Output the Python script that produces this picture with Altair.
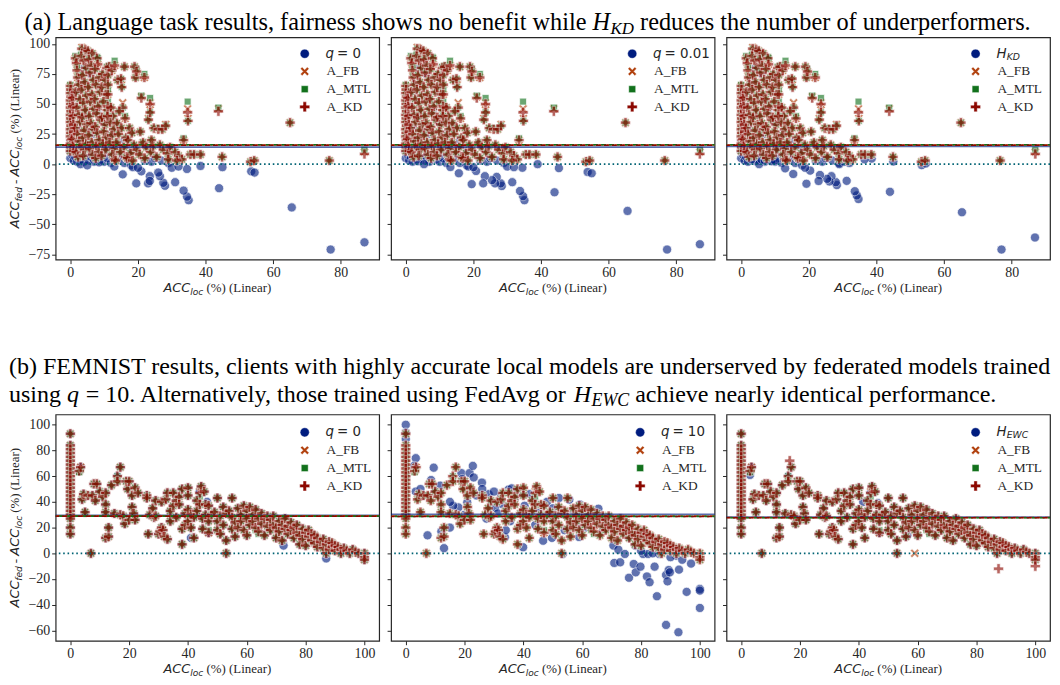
import altair as alt
import pandas as pd

# ---------------- colours / fonts ----------------
BLUE, ORANGE, GREEN, RED, TEAL = "#001c7f", "#b1400d", "#12711c", "#8c0800", "#006374"
INK = "#262626"
SERIF, SANS = "Liberation Serif", "DejaVu Sans"

# ---------------- data: (a) language task ----------------
R1_X = [0, 0.1, 0, 0.2, 0, 0.1, 0, 0.2, 0, 0.1, 0, 0.2, 0, 0.1, 0, 0.2, 0, 0.1, 0,
        0.6, 0.7, 0.8, 0.9, 1.0, 0.5, 0.8, 1.0,
        1.5, 1.8, 2.0, 2.2, 2.5, 1.6, 2.8, 1.9, 2.4, 2.9, 1.4, 2.1, 2.6, 3.0, 1.7, 2.3,
        3.4, 4.5, 3.2, 4.0, 4.6, 3.6, 4.2, 3.3, 4.8, 3.9, 4.4, 3.5, 4.9, 4.1, 3.7, 4.7, 4.3, 3.8,
        5.2, 6.5, 5.5, 6.2, 5.8, 6.8, 5.3, 6.4, 5.9, 6.9, 5.6, 6.1, 6.7, 5.4, 6.3, 5.7, 6.6,
        7.9, 8.1, 7.3, 8.6, 7.6, 8.8, 7.2, 8.3, 7.8, 8.9, 7.4, 8.0, 8.5, 7.7, 8.4, 7.5,
        9.5, 10.2, 9.3, 10.8, 10.5, 9.8, 10.9, 9.4, 10.3, 9.9, 10.7, 9.6, 10.4, 9.2,
        11.1, 11.1, 11.1, 11.1, 11.5, 12.3, 13.1, 12.0, 12.6, 11.8, 12.8, 12.2, 11.6, 12.9, 12.4, 13.0, 11.0,
        14.0, 15.2, 15.0, 16.0, 15.5, 16.2, 14.5, 13.8, 15.1, 14.2, 16.5, 13.6, 15.8, 14.8, 16.4, 13.4,
        19.0, 19.3, 19.6, 17.5, 18.2, 17.0, 18.8, 19.5, 17.8, 16.9, 18.4,
        21.9, 21.0, 20.7, 23.6, 23.1, 23.6, 21.5, 22.5, 23.8, 20.5, 24.5, 22.0, 24.0,
        24.7, 26.0, 27.2, 28.2, 26.5, 27.5, 28.8, 29.5, 25.5, 29.0,
        31.0, 32.0, 33.5, 34.8, 34.7, 35.5, 36.6, 38.5, 33.0, 31.5,
        43.8, 44.9, 53.3, 54.4, 65.0, 76.6, 87.0]
R1_KD = [65, 62, 59, 56, 53, 50, 47, 44, 41, 38, 35, 32, 29, 26, 23, 20, 17, 14, 11,
         55, 48, 40, 33, 27, 21, 15, 11,
         88, 84, 78, 72, 66, 60, 54, 47, 41, 35, 30, 25, 19, 14, 10, 6,
         96, 95, 90, 86, 80, 74, 68, 62, 57, 51, 45, 39, 33, 28, 22, 17, 12, 7,
         94, 92, 87, 82, 76, 70, 64, 58, 52, 46, 40, 34, 29, 24, 18, 13, 8,
         88, 83, 79, 72, 66, 60, 54, 48, 42, 37, 31, 26, 20, 15, 10, 5,
         75, 70, 64, 80, 58, 52, 45, 39, 33, 27, 22, 17, 12, 7,
         74, 66, 58, 48, 81, 78, 82, 47, 40, 35, 29, 24, 18, 13, 8, 4, 40,
         70, 64, 71, 81, 47, 38, 44, 34, 30, 25, 22, 18, 14, 10, 6, 3,
         81, 72, 77, 30, 26, 20, 16, 12, 9, 5, 3,
         72, 55, 27, 50, 37, 43, 18, 14, 10, 8, 15, 5, 20,
         30, 29, 29, 32, 16, 12, 9, 14, 6, 4,
         10, 7, 20, 36, 43, 8, 8, 8, 4, 3,
         44, 6, 2, 3, 34.5, 3, 8.5]
R1_MTL = [66, 62, 59, 56, 53, 50, 47, 44, 41, 38, 35, 32, 29, 26, 23, 20, 17, 14, 11,
          55, 48, 40, 33, 27, 21, 15, 11,
          90, 88, 81, 74, 66, 60, 54, 47, 41, 35, 30, 25, 19, 14, 10, 6,
          96, 95, 91, 88, 80, 74, 68, 62, 57, 51, 45, 39, 33, 28, 22, 17, 12, 7,
          94, 92, 89, 82, 78, 70, 64, 58, 52, 46, 40, 34, 29, 24, 18, 13, 8,
          89, 88, 79, 72, 66, 60, 54, 50, 42, 37, 31, 26, 20, 15, 10, 5,
          75, 70, 64, 81, 58, 52, 45, 39, 33, 27, 22, 17, 12, 7,
          74, 66, 61, 52, 82, 79, 86, 47, 40, 35, 29, 24, 18, 13, 8, 4, 40,
          70, 64, 71, 81, 47, 40, 44, 34, 30, 25, 22, 18, 14, 10, 6, 3,
          81, 72, 79, 30, 26, 20, 16, 12, 9, 5, 3,
          75, 57, 27, 55, 37, 43, 18, 14, 10, 8, 15, 5, 20,
          30, 30, 29, 32, 16, 12, 9, 14, 6, 4,
          10, 7, 21.5, 36, 52, 8, 8, 8, 4, 3,
          47, 6, 2, 3, 34.5, 3, 12]
R1_FB = [65, 62, 59, 56, 53, 50, 47, 44, 41, 38, 35, 32, 29, 26, 23, 20, 17, 14, 11,
         55, 48, 40, 33, 27, 21, 15, 11,
         88, 84, 78, 72, 66, 60, 54, 47, 41, 35, 30, 25, 19, 14, 10, 6,
         97, 95, 90, 86, 81, 74, 68, 62, 57, 51, 45, 39, 33, 28, 22, 17, 12, 7,
         94, 92, 87, 82, 76, 70, 64, 58, 52, 46, 40, 34, 29, 24, 18, 13, 8,
         88, 83, 79, 72, 66, 60, 54, 48, 42, 37, 31, 26, 20, 15, 10, 5,
         75, 70, 64, 80, 58, 52, 45, 39, 33, 27, 22, 17, 12, 7,
         74, 66, 58, 48, 81, 78, 82, 47, 40, 35, 29, 24, 18, 13, 8, 4, 42,
         70, 66, 70, 81, 51, 38, 44, 34, 30, 25, 22, 18, 14, 10, 6, 3,
         81, 72, 77, 30, 26, 20, 16, 12, 9, 5, 3,
         72, 56, 27, 51, 38, 45, 18, 14, 10, 8, 15, 5, 20,
         30, 29, 29, 33, 16, 12, 9, 14, 6, 4,
         10, 7, 20, 38, 46, 8, 8, 8, 4, 3,
         46, 6, 2, 3, 34.5, 3, 10]

# blue clients hidden under the A_* cloud (same in the three language panels)
R1_BLUE_SHARED_X = [0, 0, 0, 0, 0.3, 0.3, 0.5, 1, 1.2, 1.5, 2, 2.5, 3.5, 4.5, 5.5, 6, 7, 7.5, 9, 10,
                    11, 12, 12.5, 14, 15, 16, 17, 18, 22, 24, 25, 27, 29,
                    1, 2, 3, 4, 5, 6, 2, 4, 6, 8, 10, 12, 14, 16, 18, 3, 5, 7, 9, 11]
R1_BLUE_SHARED_Y = [5, 10, 15, 20, 30, 40, 8, 3, 12, 6, 2, 9, 4, 7, 3, 6, 2, 8, 4, 2,
                    5, 1, 7, 3, 6, 1, 4, -1, 3, 2, 5, 3, 1,
                    50, 60, 70, 80, 85, 75, 30, 40, 30, 45, 35, 25, 15, 20, 12, 20, 15, 25, 18, 12]
R1_Q0_X = [77, 87, 65.5, 44, 35, 34.5, 33.5, 31, 28, 27.5, 26.5, 26, 23.5, 23, 23.5, 19.5, 21, 15.5,
           13, 53.5, 54.5, 45, 38.5, 4, 3, 5, 8.5, 34.5, 30, 32, 18.5, 20]
R1_Q0_Y = [-71, -65, -36, -20, -30, -27, -22, -15, -18, -15.5, -10, -7, -10, -16, -14, -16, -6, -8.5,
           -2, -6, -7, -2.5, -1.5, 2, 0, -1, 1.5, -4, -3, -2, -2.5, -3]
R1_Q001_X = [77.3, 87, 65.6, 44, 35.1, 34.7, 33.8, 31.5, 28.4, 28.1, 26.9, 26.4, 25.5, 23.4, 22.9,
             19.5, 20.8, 15.7, 13.2, 53.8, 55, 45.3, 39, 3.6, 5.4, 34.5, 30, 32, 18.5, 20]
R1_Q001_Y = [-71, -66.6, -38.9, -23.4, -30, -26.6, -22.3, -15, -18.2, -16, -10.6, -16, -13.3, -10, -16,
             -16.6, -5.7, -7.6, -2.4, -6.5, -7.6, -3.3, 0, 2.4, 0, -3, -2, -2.5, -2, -2.5]
R1_HKD_X = [77, 86.9, 65.3, 44, 34.7, 34.2, 33.6, 31.2, 28.3, 28, 26.7, 26.1, 25.4, 23.3, 22.9,
            19.3, 20.4, 15.4, 13, 53.4, 54.6, 45, 38.6, 36.5, 4.2, 5.3, 8.9, 18.9, 29, 32,
            30.5, 3, 6, 7, 10]
R1_HKD_Y = [-71, -61, -40, -23, -29, -26, -22.5, -13.9, -17.4, -15, -10, -14.4, -12.2, -9, -14,
            -16.3, -5.4, -8.2, -3.5, -0.8, 0.5, 2.2, 4.6, 4, 2.7, 0, 2.4, -3, 0, 1,
            2, 4, 4, 3, 3]
R1_BLUE_MEAN = [14.1, 14.1, 14.7]
R1_FB_MEAN, R1_MTL_MEAN, R1_KD_MEAN = 15.9, 16.1, 15.7

# ---------------- data: (b) FEMNIST ----------------
R2_X = [0] * 23 + [
    3, 3.5, 4, 4.5, 6, 5, 7, 7.5, 8, 9, 8.5, 10, 11, 12, 12, 12, 12, 13, 13, 14,
    15, 16, 16, 17, 17, 18, 18.5, 19, 19.5, 20, 20, 21, 21, 21.5, 22, 22, 23,
    26, 26, 26.5, 27, 28, 28.5, 29, 29, 30, 30.5, 31, 31, 31.5, 32, 32.5, 33, 33, 34, 34, 35,
    35, 36, 36, 37, 37, 38, 38, 38, 39, 39, 40, 40, 40, 40, 41, 41, 42, 42, 43, 43,
    44, 44.5, 44, 45, 45, 45.5, 46, 46, 47, 47, 47, 48, 49, 50, 50, 50,
    51, 51, 52, 52, 53, 53, 53, 54, 55, 55, 55, 56, 56, 57, 57, 58, 58, 59, 59, 60,
    60, 60, 61, 61, 62, 62, 63, 63, 64, 64, 65, 65, 66, 66, 67, 67, 68, 68, 69, 69,
    70, 70, 71, 71, 72, 72,
    73, 73, 74, 74, 75, 75, 76, 76, 77, 77, 78, 78, 79, 79, 80, 80, 81, 81, 82, 82,
    83, 83, 84, 84, 85, 86, 86, 87, 87, 88, 88, 89, 89, 90, 90, 91, 92, 92, 93, 94,
    95, 96, 97, 98, 100, 100, 100]
R2_KD = [93, 84, 81, 78, 75, 72, 69, 66, 63, 60, 57, 54, 51, 48, 45, 42, 39, 36, 33, 30, 27, 20, 15,
         64, 67, 42, 46, 45, 32, 0, 45, 54, 54, 41, 48, 44, 47, 38, 32, 12, 13, 20, 53,
         31, 60, 56, 67, 30, 29, 23, 56, 50, 56, 26, 45, 36, 31, 51, 26, 47,
         45, 43, 15, 30, 35, 28, 41, 29, 15, 17, 40, 20, 18, 13, 42, 11, 47, 25, 33, 37,
         47, 28, 41, 44, 38, 19, 7, 50, 31, 22, 51, 45, 34, 25, 20, 30, 12, 28, 41, 33,
         47, 52, 38, 27, 19, 48, 38, 30, 16, 25, 37, 30, 32, 43, 25, 18,
         29, 15, 22, 36, 0, 10, 31, 33, 28, 19, 43, 13, 24, 35, 20, 30, 25, 37, 18, 33,
         27, 14, 36, 22, 30, 25, 20, 34, 27, 17, 31, 23, 27, 14, 29, 21, 26, 18, 22, 29,
         20, 12, 25, 17, 22, 10,
         27, 19, 15, 21, 18, 24, 12, 20, 16, 22, 14, 7, 19, 11, 16, 6, 13, 18, 10, 15,
         8, 14, 12, 5, 9, 11, 4, 7, 0, 9, 3, 5, 8, 6, 2, 5, 3, 0, 4, 2,
         0, 3, 1, 0, 0, -3, -5]
R2_MTL = [93, 84, 81, 78, 75, 72, 69, 66, 63, 60, 57, 54, 51, 48, 45, 42, 39, 36, 33, 30, 27, 20, 15,
          63, 65, 42, 46, 45, 32, 0, 45, 54, 54, 41, 48, 44, 47, 38, 32, 12, 13, 20, 53,
          31, 60, 56, 67, 30, 29, 23, 56, 50, 56, 26, 45, 36, 31, 51, 26, 47,
          45, 43, 15, 30, 35, 28, 41, 29, 15, 17, 40, 20, 18, 13, 42, 11, 47, 25, 33, 37,
          47, 28, 41, 44, 38, 19, 7, 50, 31, 22, 51, 45, 34, 25, 20, 30, 12, 28, 41, 33,
          44, 52, 38, 27, 19, 48, 38, 30, 18, 25, 37, 30, 32, 43, 25, 18,
          29, 15, 22, 36, 0, 10, 31, 33, 28, 19, 43, 13, 24, 35, 20, 30, 25, 37, 18, 33,
          27, 14, 36, 22, 30, 25, 18, 34, 27, 15, 31, 23, 27, 14, 29, 21, 26, 18, 22, 29,
          20, 12, 25, 17, 22, 10,
          27, 19, 15, 21, 18, 24, 12, 20, 16, 22, 14, 7, 19, 11, 16, 6, 13, 18, 10, 15,
          8, 14, 12, 5, 9, 11, 4, 7, 0, 9, 3, 5, 8, 6, 2, 5, 3, 0, 4, 2,
          0, 3, 1, 0, 0, -3, -5]
R2_FB = [93, 84, 81, 78, 75, 72, 69, 66, 63, 60, 57, 54, 51, 48, 45, 42, 39, 36, 33, 30, 27, 20, 15,
         64, 67, 42, 46, 45, 32, 0, 45, 54, 54, 41, 48, 44, 47, 38, 32, 12, 13, 20, 53,
         31, 57, 56, 67, 30, 29, 23, 56, 50, 56, 26, 45, 36, 31, 51, 26, 47,
         45, 43, 15, 30, 35, 28, 41, 29, 15, 17, 40, 20, 18, 13, 42, 11, 47, 25, 33, 37,
         47, 28, 41, 44, 38, 19, 7, 50, 31, 22, 51, 45, 34, 25, 20, 30, 12, 28, 41, 33,
         48, 52, 38, 27, 19, 48, 38, 30, 16, 25, 37, 30, 32, 43, 25, 18,
         29, 15, 22, 36, 0, 10, 31, 33, 28, 19, 43, 13, 24, 35, 20, 30, 25, 37, 18, 33,
         27, 14, 36, 22, 30, 25, 20, 34, 27, 17, 31, 23, 27, 14, 29, 21, 26, 18, 22, 29,
         20, 12, 25, 17, 22, 10,
         27, 19, 15, 21, 18, 24, 12, 20, 16, 22, 14, 7, 19, 11, 16, 6, 13, 18, 10, 15,
         8, 14, 12, 5, 9, 11, 4, 7, 0, 9, 3, 5, 8, 6, 2, 5, 3, 0, 4, 2,
         0, 3, 1, 0, 0, -3, -5]
# blue points that stand out from the A_* cloud
R2_Q0_EXTRA_X = [87, 72.5, 41, 44, 62.5, 46.5]
R2_Q0_EXTRA_Y = [-4, 6, 12, 48, 34, 40]
R2_HEWC_EXTRA_X = [50, 52, 56.5, 46.5, 3, 41.5]
R2_HEWC_EXTRA_Y = [31, 31, 14, 39, 61, 40]
R2_P3_KD_EXTRA_X = [16.5, 87.5, 100]
R2_P3_KD_EXTRA_Y = [72, -12, -10]
R2_P3_FB_EXTRA_X = [59]
R2_P3_FB_EXTRA_Y = [0]
R2_Q10_X = [0, 0, 0, 0, 0, 3.4, 2.8, 3.4, 9.5, 8.6, 7.4, 11.7, 12.1, 13, 18.9,
            19.2, 21.7, 22.8, 23.1, 20.9, 17.9, 16.1, 25.9, 28.2, 29.3, 30.4, 32.4, 34.9, 36, 38.2,
            39.9, 40.4, 39.9, 33.7, 31.3, 27.4, 35.5, 46.7, 43.2, 43.8, 49.7, 49.4, 52.1, 53.4, 55.6,
            56.1, 59.2, 58.9, 60.6, 65.5, 70.6, 72.3, 74.5, 70.9, 72.9, 75.9, 77.5, 78.2, 79.8, 80.7,
            82, 82.9, 82.4, 84.6, 85.4, 86.2, 88.5, 89.4, 89.8, 89, 88.5, 92.9, 92.7, 91.9, 95.5,
            95.4, 100, 100, 100,
            5, 6, 10, 15, 24, 26, 30, 33, 37, 42, 45, 48, 50, 54, 57, 62, 64, 66, 68, 67,
            76, 78, 80, 84, 86, 90, 94, 97, 15, 20, 34, 44, 54, 58, 61]
R2_Q10_Y = [100, 94, 89, 60, 40, 74, 68, 48, 66.6, 57, 14, 52.6, 17, 4, 62.4,
            57.8, 62.4, 68, 59, 39.6, 35.7, 37, 55, 46, 39.6, 35.7, 44.8, 49.5, 50.5, 48.7,
            46, 37, 4.7, 12.4, 31, 27, 25, 9.8, 42, 39.6, 12, 27.5, 43, -0.5, 41.7,
            25, 38, 12.7, 35.7, 34.7, 6, 2.8, -0.5, -7.5, -7, -19, -8.3, -14.8, -10.4, -0.5,
            -18, -22.5, -0.5, -10.4, -33.4, -0.5, -16.8, -13, -14.8, -21.8, -55.7, -12.7, -61.4, -1.8, -30,
            0.8, -27.7, -29, -42.5,
            50, 45, 48, 40, 45, 50, 48, 38, 42, 46, 33, 40, 35, 30, 33, 32, 30, 28, 25, 18,
            12, 6, 2, 0, 3, -3, -5, -8, 20, 30, 18, 22, 18, 22, 20]
R2_BLUE_MEAN = [29.4, 30.3, 28.2]
R2_A_MEAN = [28.9, 28.7, 27.7]

# ---------------- axes ----------------
R1_XDOM, R1_YDOM = [-4.35, 91.35], [-79.4, 105.4]
R1_XTICKS, R1_YTICKS = [0, 20, 40, 60, 80], [-75, -50, -25, 0, 25, 50, 75, 100]
R2_XDOM, R2_YDOM = [-5, 105], [-68, 108]
R2_XTICKS, R2_YTICKS = [0, 20, 40, 60, 80, 100], [-60, -40, -20, 0, 20, 40, 60, 80, 100]

W = 326
ROW_H = [224, 228]
X_PATH = ("M0.53,-0.884L0.884,-0.53L0.354,0L0.884,0.53L0.53,0.884L0,0.354L-0.53,0.884"
          "L-0.884,0.53L-0.354,0L-0.884,-0.53L-0.53,-0.884L0,-0.354Z")
P_PATH = ("M-0.33,-1L0.33,-1L0.33,-0.33L1,-0.33L1,0.33L0.33,0.33L0.33,1L-0.33,1"
          "L-0.33,0.33L-1,0.33L-1,-0.33L-0.33,-0.33Z")


def frame(xs, ys):
    assert len(xs) == len(ys), (len(xs), len(ys))
    return pd.DataFrame({"x": xs, "y": ys})


def txt(s, px, py, size, font=SERIF, style="normal", align="left", baseline="alphabetic",
        angle=0, color=INK):
    return alt.Chart(pd.DataFrame({"t": [s]})).mark_text(
        align=align, baseline=baseline, font=font, fontSize=size, fontStyle=style,
        angle=angle, color=color).encode(text="t:N", x=alt.value(px), y=alt.value(py))


def make_panel(row, col, blue, fb, mtl, kd, blue_mean, a_means, leg):
    H = ROW_H[row]
    xdom, ydom = (R1_XDOM, R1_YDOM) if row == 0 else (R2_XDOM, R2_YDOM)
    xt, yt = (R1_XTICKS, R1_YTICKS) if row == 0 else (R2_XTICKS, R2_YTICKS)
    xs = alt.Scale(domain=xdom, nice=False, zero=False)
    ys = alt.Scale(domain=ydom, nice=False, zero=False)
    common = dict(title=None, grid=False, domain=False, tickSize=4, tickWidth=1, tickColor=INK,
                  labelFont=SERIF, labelFontSize=14, labelColor=INK, labelPadding=2,
                  format="d", labelFlush=False, labelOverlap=False)
    xax = alt.Axis(values=xt, **common)
    yax = alt.Axis(values=yt, labels=(col == 0), **common)

    def pts(df, color, shape, size, op=0.62):
        return alt.Chart(df).mark_point(shape=shape, filled=True, fill=color, size=size,
                                         opacity=op, stroke="white", strokeWidth=0.7).encode(
            x=alt.X("x:Q", scale=xs, axis=xax), y=alt.Y("y:Q", scale=ys, axis=yax))

    def hline(v, color, width=1.6, dash=None, offset=0, op=1.0):
        kw = dict(color=color, strokeWidth=width, opacity=op)
        if dash:
            kw.update(strokeDash=dash, strokeDashOffset=offset)
        return alt.Chart(pd.DataFrame({"v": [v]})).mark_rule(**kw).encode(
            y=alt.Y("v:Q", scale=ys, axis=yax))

    layers = [pts(blue, BLUE, "circle", 85), pts(fb, ORANGE, X_PATH, 105),
              pts(mtl, GREEN, "square", 48), pts(kd, RED, P_PATH, 105),
              hline(blue_mean, BLUE, width=1.8, op=0.65),
              hline(a_means[0], ORANGE, dash=[5, 3], offset=0),
              hline(a_means[1], GREEN, dash=[5, 3], offset=2.7),
              hline(a_means[2], RED, dash=[5, 3], offset=5.4),
              hline(0, TEAL, width=1.7, dash=[1.6, 2.8])]

    # legend (drawn inside the upper-right corner, as in the reference)
    mx, tx = leg["mx"], leg["tx"]
    ry = [16.5, 34.3, 52.2, 70] if row == 0 else [18, 36, 54, 72]
    for (c, s, z), yy in zip([(BLUE, "circle", 85), (ORANGE, X_PATH, 95), (GREEN, "square", 48),
                              (RED, P_PATH, 100)], ry):
        layers.append(alt.Chart(pd.DataFrame({"k": [0]})).mark_point(
            shape=s, filled=True, fill=c, size=z, opacity=1, stroke="white", strokeWidth=0.4
        ).encode(x=alt.value(mx), y=alt.value(yy)))
    if leg["kind"] == "q":
        layers.append(txt("q", tx, ry[0], 13.5, SANS, "italic", baseline="middle"))
        layers.append(txt(leg["rest"], tx + 11.5, ry[0], 13.5, SANS, baseline="middle"))
    else:
        layers.append(txt("H", tx, ry[0], 13.5, SANS, "italic", baseline="middle"))
        layers.append(txt(leg["sub"], tx + 10.3, ry[0] + 3, 9.4, SANS, "italic", baseline="middle"))
    for lab, yy in zip(["A_FB", "A_MTL", "A_KD"], ry[1:]):
        layers.append(txt(lab, tx + 1, yy, 13.5, SERIF, baseline="middle"))

    # x axis title  ACC_loc (%) (Linear)
    layers += [txt("ACC", 108.7, H + 33, 13, SANS, "italic"),
               txt("loc", 135.7, H + 35.7, 9.1, SANS, "italic"),
               txt("(%) (Linear)", 152, H + 33, 13, SERIF)]
    if col == 0:
        # y axis title  ACC_fed - ACC_loc (%) (Linear), rotated
        b0 = H / 2 + 80.45
        bx, sx = -36.5, -33.8
        layers += [txt("ACC", bx, b0, 13, SANS, "italic", angle=270),
                   txt("fed", sx, b0 - 27, 9.1, SANS, "italic", angle=270),
                   txt("-", bx, b0 - 44.65, 13, SERIF, angle=270),
                   txt("ACC", bx, b0 - 52.2, 13, SANS, "italic", angle=270),
                   txt("loc", sx, b0 - 79.2, 9.1, SANS, "italic", angle=270),
                   txt("(%) (Linear)", bx, b0 - 95.45, 13, SERIF, angle=270)]
    if row == 0 and col == 0:
        layers += [txt("(a) Language task results, fairness shows no benefit while", 534.9, -7.5, 24.5,
                       align="right", color="black"),
                   txt("H", 541, -7.5, 24.5, style="italic", color="black"),
                   txt("KD", 559.2, -3.5, 17, style="italic", color="black"),
                   txt("reduces the number of underperformers.", 588.9, -7.5, 24.5, color="black")]
    if row == 1 and col == 0:
        layers += [txt("(b) FEMNIST results, clients with highly accurate local models are "
                       "underserved by federated models trained", -47, -41, 24.2, color="black"),
                   txt("using", -47, -13, 24.2, color="black"),
                   txt("q", 11.5, -13, 24.2, style="italic", color="black"),
                   txt("= 10. Alternatively, those trained using FedAvg or", 30.3, -13, 24.2,
                       color="black"),
                   txt("H", 522, -13, 24.2, style="italic", color="black"),
                   txt("EWC", 540, -9, 18, style="italic", color="black"),
                   txt("achieve nearly identical performance.", 584, -13, 24.2, color="black")]
    return alt.layer(*layers).properties(width=W, height=H)


LEG_STD = 251
panels = [
    make_panel(0, 0, frame(R1_BLUE_SHARED_X + R1_Q0_X, R1_BLUE_SHARED_Y + R1_Q0_Y),
               frame(R1_X, R1_FB), frame(R1_X, R1_MTL), frame(R1_X, R1_KD),
               R1_BLUE_MEAN[0], [R1_FB_MEAN, R1_MTL_MEAN, R1_KD_MEAN],
               dict(kind="q", rest="= 0", mx=LEG_STD, tx=272)),
    make_panel(0, 1, frame(R1_BLUE_SHARED_X + R1_Q001_X, R1_BLUE_SHARED_Y + R1_Q001_Y),
               frame(R1_X, R1_FB), frame(R1_X, R1_MTL), frame(R1_X, R1_KD),
               R1_BLUE_MEAN[1], [R1_FB_MEAN, R1_MTL_MEAN, R1_KD_MEAN],
               dict(kind="q", rest="= 0.01", mx=243, tx=264)),
    make_panel(0, 2, frame(R1_BLUE_SHARED_X + R1_HKD_X, R1_BLUE_SHARED_Y + R1_HKD_Y),
               frame(R1_X, R1_FB), frame(R1_X, R1_MTL), frame(R1_X, R1_KD),
               R1_BLUE_MEAN[2], [R1_FB_MEAN, R1_MTL_MEAN, R1_KD_MEAN],
               dict(kind="h", sub="KD", mx=LEG_STD, tx=272)),
    make_panel(1, 0, frame(R2_X + R2_Q0_EXTRA_X, R2_KD + R2_Q0_EXTRA_Y),
               frame(R2_X, R2_FB), frame(R2_X, R2_MTL), frame(R2_X, R2_KD),
               R2_BLUE_MEAN[0], [R2_A_MEAN[0] + 0.2, R2_A_MEAN[0], R2_A_MEAN[0] - 0.1],
               dict(kind="q", rest="= 0", mx=LEG_STD, tx=272)),
    make_panel(1, 1, frame(R2_Q10_X, R2_Q10_Y),
               frame(R2_X, R2_FB), frame(R2_X, R2_MTL), frame(R2_X, R2_KD),
               R2_BLUE_MEAN[1], [R2_A_MEAN[1] + 0.2, R2_A_MEAN[1], R2_A_MEAN[1] - 0.1],
               dict(kind="q", rest="= 10", mx=LEG_STD, tx=272)),
    make_panel(1, 2, frame(R2_X + R2_HEWC_EXTRA_X, R2_KD + R2_HEWC_EXTRA_Y),
               frame(R2_X + R2_P3_FB_EXTRA_X, R2_FB + R2_P3_FB_EXTRA_Y),
               frame(R2_X, R2_MTL),
               frame(R2_X + R2_P3_KD_EXTRA_X, R2_KD + R2_P3_KD_EXTRA_Y),
               R2_BLUE_MEAN[2], [R2_A_MEAN[2] + 0.2, R2_A_MEAN[2], R2_A_MEAN[2] - 0.1],
               dict(kind="h", sub="EWC", mx=LEG_STD, tx=272)),
]

chart = alt.concat(*panels, columns=3, spacing={"row": 156, "column": 12}, bounds="flush").properties(
    padding={"top": -2, "left": 0, "right": 0, "bottom": 0}, background="white"
).configure_view(stroke=INK, strokeWidth=1.2)

chart.save("out.html", embed_options={"renderer": "svg", "actions": False})
